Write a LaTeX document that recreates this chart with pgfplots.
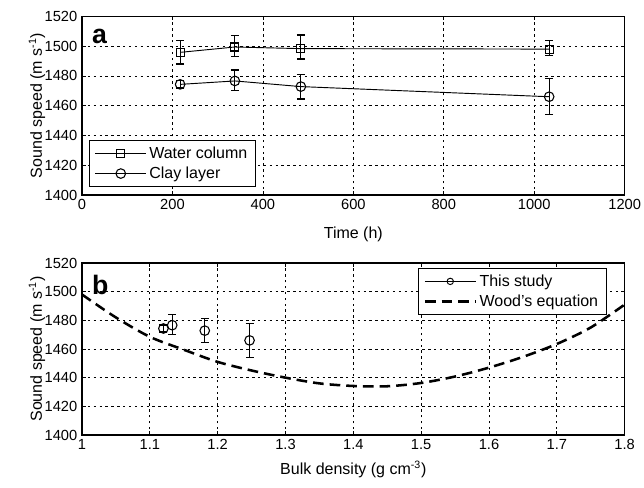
\documentclass[border=0pt]{standalone}
\usepackage{fontspec}
\setmainfont{Liberation Sans}
\usepackage{pgfplots}
\pgfplotsset{compat=1.18}

\pgfplotsset{
  panel/.style={
    scale only axis, width=407pt,
    ymin=1400, ymax=1520, ytick={1400,1420,...,1520},
    scaled ticks=false,
    tick label style={font=\fontsize{11}{13}\selectfont,
      /pgf/number format/assume math mode=true,
      /pgf/number format/1000 sep={}},
    axis line style={line width=1.2pt},
    tick align=inside, major tick length=3pt,
    tick style={black, line width=0.5pt},
    grid=major,
    major grid style={black, line width=0.5pt, dash pattern=on 1.8pt off 2.6pt},
    ylabel={Sound speed (m s\textsuperscript{-1})},
    ylabel style={at={(axis description cs:-0.083,0.5)}, anchor=center},
    legend cell align=left,
    legend style={draw=black, line width=0.9pt, fill=white,
      inner xsep=4pt, inner ysep=2.5pt, row sep=1pt,
      font=\fontsize{12}{14}\selectfont},
    legend image code/.code={
      \draw[mark repeat=2, mark phase=2, #1] plot coordinates {(0pt,0pt) (19pt,0pt) (38pt,0pt)};},
    error bars/error bar style={black, line width=0.9pt},
    error bars/error mark options={rotate=90, mark size=3pt, line width=0.9pt},
  }
}

\begin{document}
\begin{tikzpicture}[font=\fontsize{12}{14}\selectfont]
\useasboundingbox (-61.5pt,146.25pt) rectangle (421.5pt,-219.75pt);

% (a) sound speed against time
\begin{axis}[panel, height=134pt,
  xmin=0, xmax=1200, xtick={0,200,...,1200},
  xlabel={Time (h)},
  xlabel style={at={(axis description cs:0.5,-0.222)}, anchor=center},
  legend style={at={(0.013,0.045)}, anchor=south west},
]
\addplot[black, line width=0.7pt, mark=square, mark size=3pt,
  mark options={line width=0.8pt},
  error bars/.cd, y dir=both, y explicit]
  table[row sep=\\, x=t, y=v, y error plus=ep, y error minus=em] {
    t v ep em \\
    217  1495.8 7.8 7.8 \\
    338  1499.4 7.8 6.4 \\
    484  1498.3 9.2 6.9 \\
    1033 1498.0 5.8 4.4 \\
  };
\addlegendentry{Water column}
\addplot[black, line width=0.7pt, mark=o, mark size=3.6pt,
  mark options={line width=0.8pt},
  error bars/.cd, y dir=both, y explicit]
  table[row sep=\\, x=t, y=v, y error plus=ep, y error minus=em] {
    t v ep em \\
    217  1474.3 2.5 2.5 \\
    338  1476.6 7.4 6.6 \\
    484  1472.8 8.2 8.3 \\
    1033 1466.0 12.0 12.0 \\
  };
\addlegendentry{Clay layer}
\node[anchor=north west, inner sep=0pt, font=\bfseries\fontsize{20}{20}\selectfont]
  at (rel axis cs:0.018,0.93) {a};
\end{axis}

% (b) sound speed against bulk density
\begin{axis}[panel, height=129pt, at={(0,-180pt)},
  xmin=1, xmax=1.8, xtick={1,1.1,...,1.8},
  xticklabel style={/pgf/number format/fixed, /pgf/number format/precision=1},
  xlabel={Bulk density (g cm\textsuperscript{-3})},
  xlabel style={at={(axis description cs:0.5,-0.2)}, anchor=center},
  legend style={at={(0.967,0.971)}, anchor=north east},
]
\addplot[black, only marks, mark=o, mark size=3.6pt,
  mark options={line width=0.8pt},
  legend image code/.code={
    \draw[black, line width=0.5pt] (0pt,0pt) -- (38pt,0pt);
    \draw[black, line width=0.7pt] (19pt,0pt) circle (2.4pt);},
  error bars/.cd, y dir=both, y explicit]
  table[row sep=\\, x=rho, y=v, y error plus=ep, y error minus=em] {
    rho v ep em \\
    1.120 1474.3 2.5 2.5 \\
    1.133 1476.6 7.4 6.6 \\
    1.181 1472.8 8.2 8.3 \\
    1.247 1466.0 12.0 12.0 \\
  };
\addlegendentry{This study}
\addplot[black, line width=1.9pt, dash pattern=on 8pt off 4.5pt, smooth]
  table[row sep=\\, x=rho, y=v] {
    rho v \\
    1.00 1498 \\
    1.05 1482 \\
    1.10 1468.5 \\
    1.15 1459.5 \\
    1.20 1451 \\
    1.25 1445 \\
    1.30 1440 \\
    1.35 1436 \\
    1.40 1434.2 \\
    1.45 1434 \\
    1.50 1436.3 \\
    1.55 1440.8 \\
    1.60 1447 \\
    1.65 1454.5 \\
    1.70 1463.5 \\
    1.75 1475 \\
    1.80 1491 \\
  };
\addlegendentry{Wood's equation}
\node[anchor=north west, inner sep=0pt, font=\bfseries\fontsize{20}{20}\selectfont]
  at (rel axis cs:0.018,0.93) {b};
\end{axis}
\end{tikzpicture}
\end{document}
